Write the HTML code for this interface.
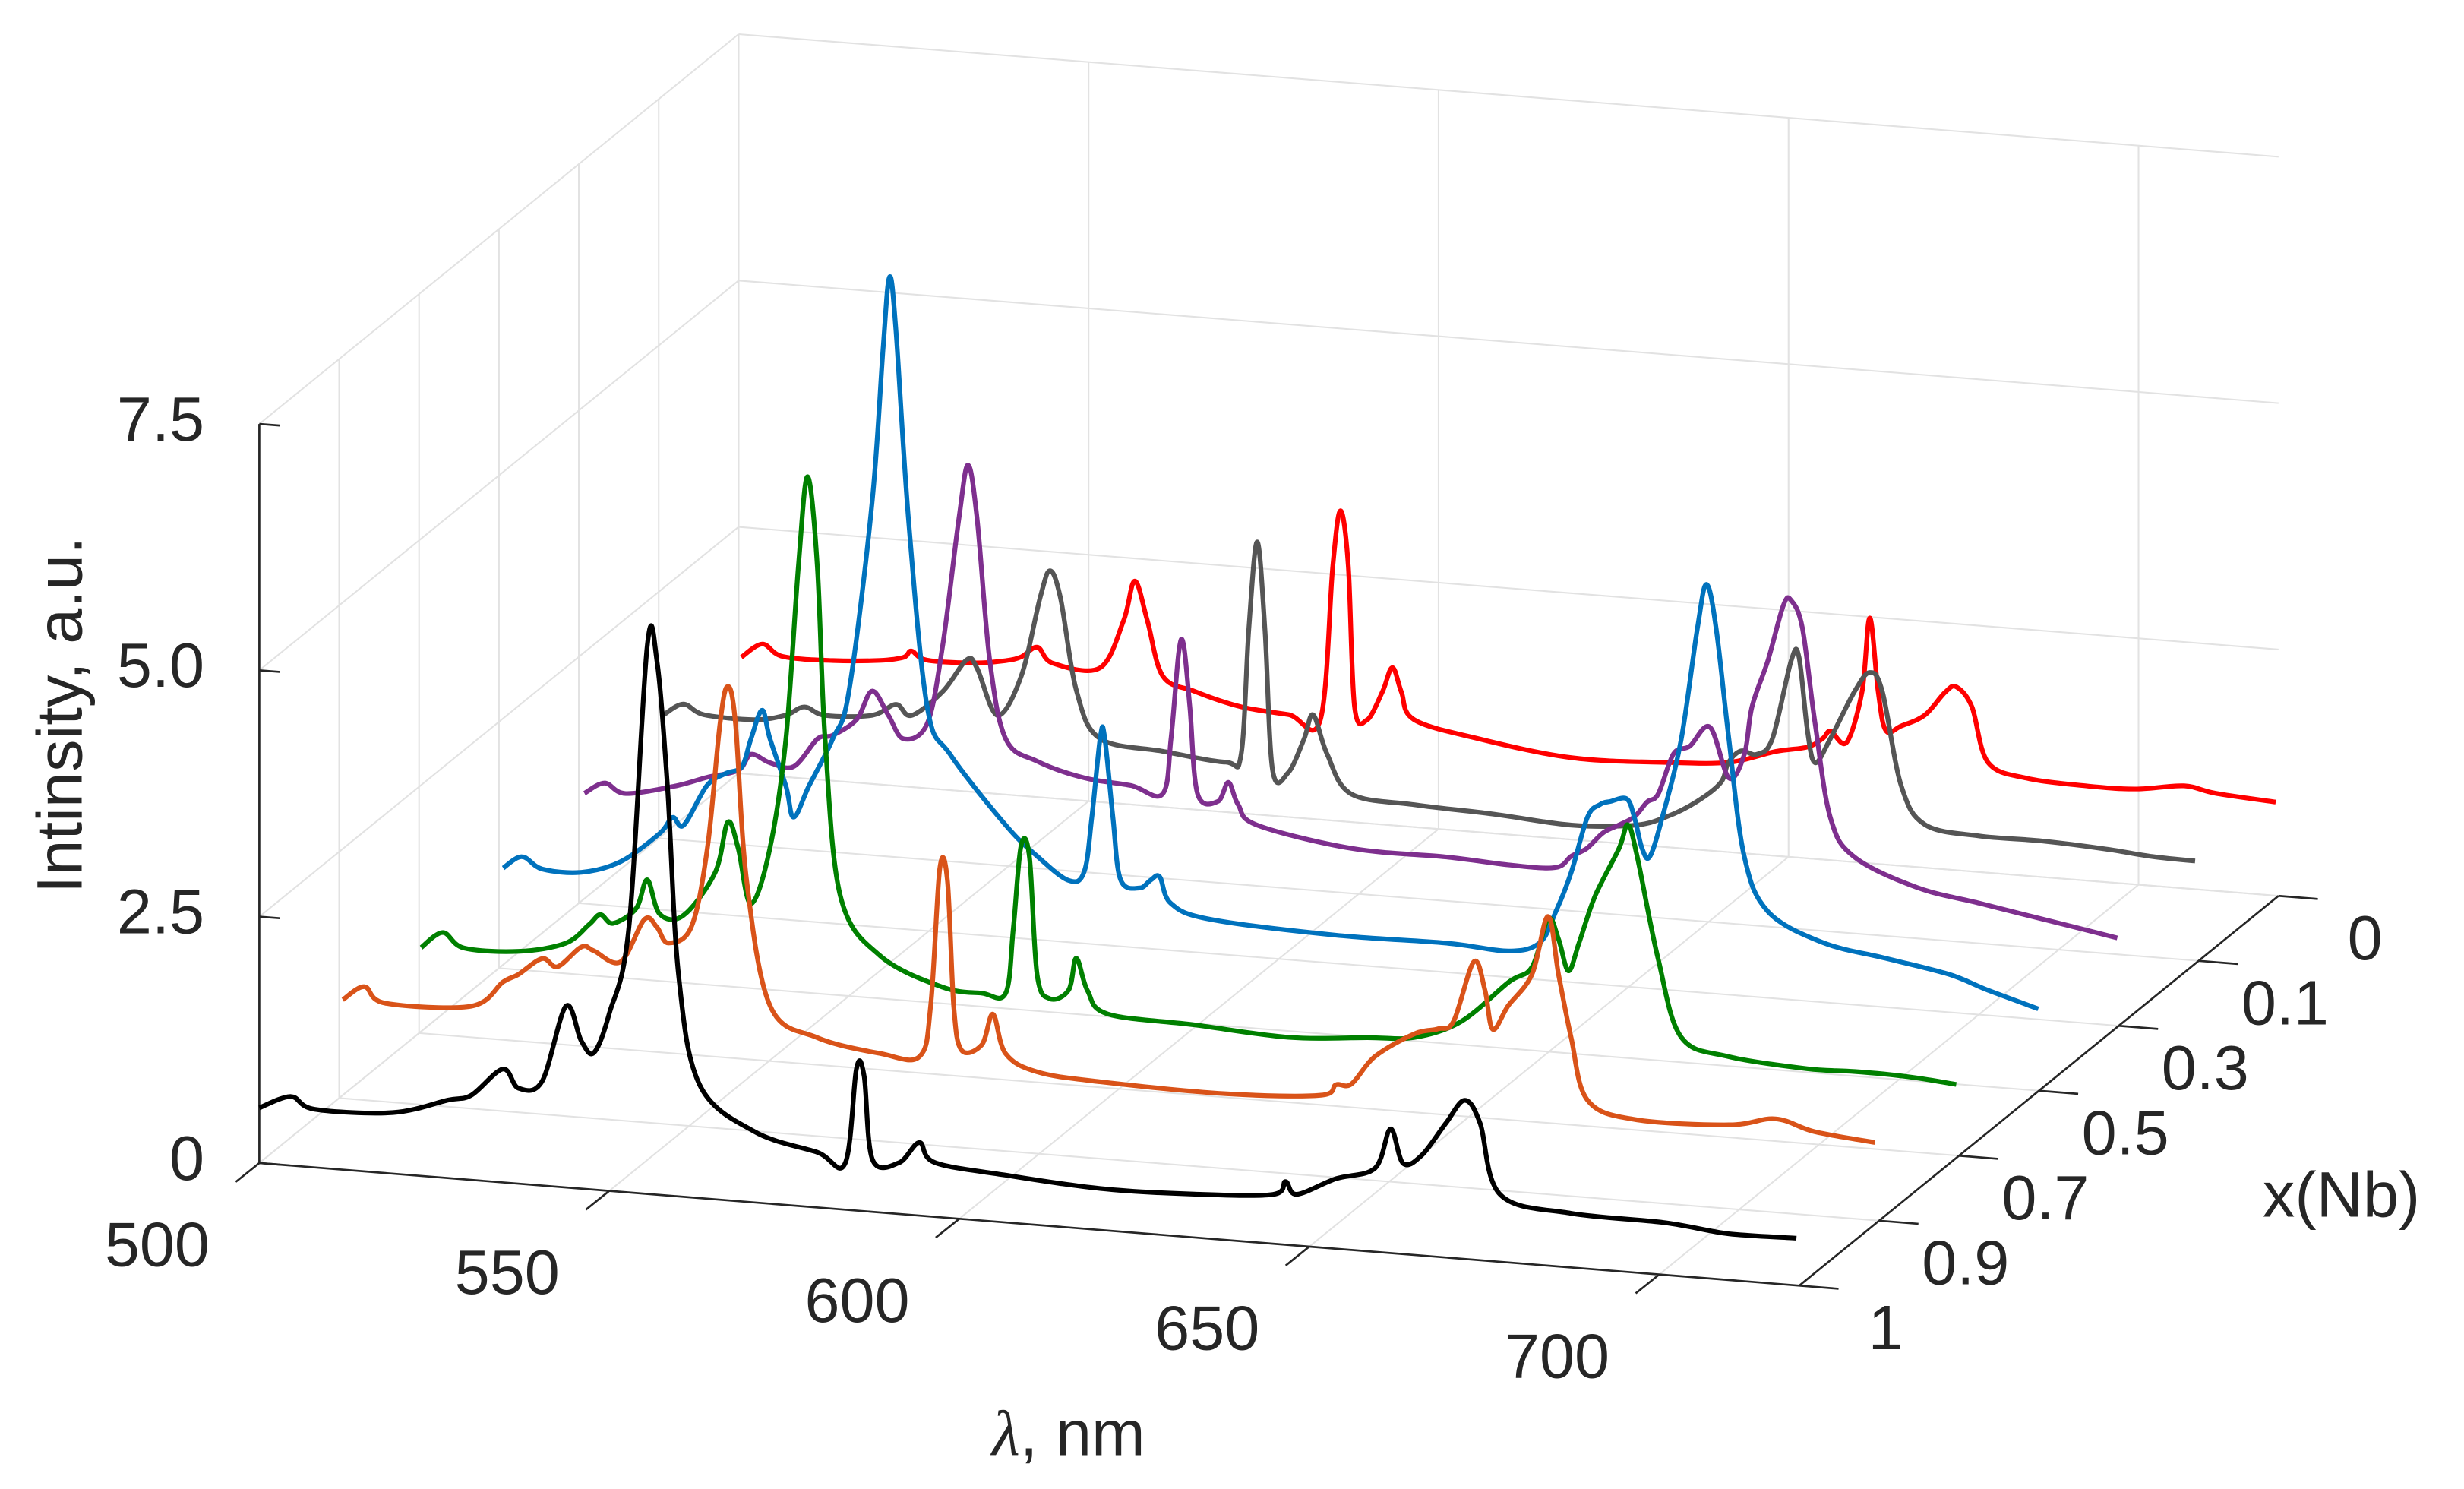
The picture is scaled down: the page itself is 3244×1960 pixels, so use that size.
<!DOCTYPE html>
<html><head><meta charset="utf-8">
<style>
html,body{margin:0;padding:0;background:#fff;}
svg{display:block;}
text{font-family:"Liberation Sans",sans-serif;fill:#262626;}
</style></head>
<body>
<svg id="chart" width="3244" height="1960" viewBox="0 0 1568 947.4" xmlns="http://www.w3.org/2000/svg">
<g id="grid"></g>
<g id="axes"></g>
<g id="series"></g>
<text x="0" y="0" font-size="41" text-anchor="middle" transform="translate(52,455) rotate(-90)">Intinsity, a.u.</text>
<text x="680" y="926" font-size="41" text-anchor="middle"><tspan font-family="Liberation Serif" font-style="italic">λ</tspan>, nm</text>
<text x="1490" y="774" font-size="41" text-anchor="middle">x(Nb)</text>
</svg>
<script>
const xCats=['0','0.1','0.3','0.5','0.7','0.9','1'];
const zTicks=[0,2.5,5,7.5];
const lTicks=[500,550,600,650,700];
const seriesColors=['#ff0000','#555555','#7e2f8e','#0072bd','#008000','#d95319','#000000'];
const seriesNames=['series-x0','series-x0.1','series-x0.3','series-x0.5','series-x0.7','series-x0.9','series-x1'];

const wl0=[500.4,503.4,506.3,513.5,520.2,523.6,524.7,526.9,533.7,538.2,540.4,542.7,544.9,551.6,555.0,556.6,558.4,560.6,565.1,571.8,578.6,583.1,584.9,586.0,587.1,588.0,589.8,592.0,593.4,594.7,596.5,605.5,619.0,632.5,641.4,648.2,652.7,654.9,656.0,658.3,660.5,661.6,662.8,663.9,666.1,669.5,672.4,674.0,676.2,678.5,684.1,693.1,699.8,706.5,711.0,719.6];
const z0=[1.18,1.33,1.22,1.22,1.26,1.31,1.38,1.30,1.31,1.36,1.41,1.52,1.37,1.36,1.86,2.27,1.88,1.33,1.20,1.08,1.04,1.01,2.59,3.15,2.60,1.17,1.05,1.35,1.60,1.36,1.09,0.95,0.83,0.86,0.91,1.06,1.13,1.23,1.31,1.21,1.74,2.49,1.75,1.36,1.42,1.55,1.80,1.86,1.67,1.12,0.99,0.96,0.97,1.04,0.99,0.95];

const wl1=[500.6,503.5,506.5,513.6,518.1,520.8,523.8,530.5,533.9,536.1,540.6,544.0,545.5,548.4,551.8,554.5,555.9,557.4,559.7,563.0,572.0,581.0,583.2,584.3,585.5,586.6,587.7,589.9,592.2,593.5,595.5,598.9,607.9,619.1,630.4,639.4,643.9,648.3,651.7,652.8,654.6,656.9,659.1,661.8,662.9,664.1,665.2,667.4,670.8,673.0,674.8,677.5,680.9,688.7,697.7,706.7,713.4,719.5];
const z1=[1.25,1.38,1.29,1.28,1.35,1.45,1.38,1.42,1.55,1.45,1.72,2.06,1.98,1.52,1.94,2.75,3.03,2.76,1.83,1.37,1.29,1.23,1.32,2.60,3.49,2.62,1.19,1.17,1.53,1.78,1.39,1.01,0.95,0.92,0.87,0.92,1.03,1.21,1.42,1.63,1.76,1.74,1.91,2.72,2.76,2.02,1.70,1.96,2.45,2.66,2.48,1.54,1.16,1.09,1.09,1.06,1.02,1.01];

const wl2=[500.8,503.7,506.7,513.9,518.3,522.8,524.6,527.3,530.7,534.1,536.3,539.7,541.9,544.2,546.4,549.8,552.0,554.3,555.6,556.9,558.7,561.0,565.5,572.2,578.9,583.4,584.6,585.7,586.4,587.3,588.4,591.3,592.8,594.2,596.9,610.4,623.8,632.8,639.5,641.8,644.0,646.3,648.5,650.8,652.6,654.2,656.4,658.7,661.6,664.3,666.5,667.6,669.9,672.1,673.2,674.8,676.6,678.8,682.2,691.2,700.2,709.2,719.8];
const z2=[1.12,1.24,1.15,1.27,1.38,1.48,1.65,1.58,1.56,1.86,1.91,2.09,2.39,2.16,1.93,2.11,2.92,4.21,4.76,4.22,2.80,2.01,1.81,1.68,1.64,1.58,2.15,3.03,3.11,2.48,1.61,1.55,1.75,1.53,1.34,1.18,1.17,1.14,1.15,1.28,1.37,1.54,1.63,1.73,1.89,1.98,2.40,2.49,2.70,2.20,2.45,2.94,3.43,4.00,4.05,3.78,2.83,1.88,1.50,1.24,1.13,1.02,0.89];

const wl3=[500.6,503.3,506.2,511.8,517.4,523.0,524.8,526.4,529.7,532.4,534.7,536.0,537.6,538.7,541.0,542.1,544.3,547.7,550.0,553.3,554.9,555.8,556.7,558.5,561.2,564.5,572.4,576.9,581.4,583.6,584.7,585.9,586.5,587.7,588.8,591.5,593.1,594.4,596.0,601.6,619.5,635.2,644.2,648.7,651.0,653.2,655.5,657.3,658.8,661.1,662.2,663.3,664.4,666.2,668.9,671.2,672.5,673.9,675.7,677.9,681.3,689.1,698.1,707.1,712.7,719.9];
const z3=[1.02,1.15,1.04,1.04,1.18,1.50,1.67,1.60,2.02,2.16,2.24,2.53,2.83,2.55,2.08,1.77,2.10,2.60,3.09,5.02,6.63,7.33,6.80,4.89,2.99,2.53,1.86,1.57,1.35,1.45,2.01,2.82,2.85,2.03,1.40,1.33,1.42,1.46,1.20,1.07,1.01,1.02,0.99,1.10,1.43,1.84,2.41,2.55,2.59,2.63,2.45,2.14,2.06,2.47,3.28,4.41,4.87,4.43,3.32,2.14,1.60,1.33,1.22,1.11,0.98,0.83];

const wl4=[500.3,503.4,506.4,514.2,520.9,524.3,525.9,527.7,531.0,532.6,534.4,537.8,542.3,544.1,545.6,547.4,550.1,552.4,554.2,555.5,556.9,558.0,560.2,565.8,574.8,580.4,583.8,584.9,586.0,587.2,588.3,590.1,592.8,593.9,595.5,598.4,610.8,624.2,635.5,642.2,648.9,655.7,659.0,661.3,662.8,664.2,665.7,668.0,671.4,672.7,674.0,677.0,680.3,687.1,698.3,705.1,712.9,719.6];
const z4=[0.87,1.04,0.90,0.91,1.03,1.24,1.35,1.27,1.44,1.74,1.40,1.41,1.87,2.39,2.13,1.58,2.15,3.28,5.05,5.96,5.06,3.32,1.73,1.16,0.89,0.86,0.88,1.55,2.39,2.28,1.09,0.86,0.96,1.29,0.97,0.75,0.71,0.66,0.72,0.76,0.96,1.40,1.57,2.07,1.87,1.56,1.85,2.34,2.84,3.09,2.78,1.76,0.98,0.82,0.76,0.77,0.76,0.72];

const wl5=[500.5,503.6,506.6,518.9,523.4,525.6,529.0,531.2,534.6,536.4,540.2,543.6,545.4,547.0,550.3,552.6,554.4,555.5,556.6,558.2,561.6,568.3,577.3,582.9,584.5,585.8,586.9,587.8,588.9,591.8,593.4,595.2,599.7,608.7,626.6,640.1,642.4,644.6,648.0,653.6,657.0,659.2,662.1,663.7,664.8,667.0,670.4,672.7,674.2,676.0,678.3,685.0,698.5,705.2,710.8,719.4];
const z5=[1.00,1.15,1.00,1.04,1.31,1.40,1.58,1.51,1.73,1.70,1.61,2.06,1.99,1.84,2.02,2.83,4.11,4.49,4.13,2.54,1.28,1.00,0.89,0.89,1.41,2.81,2.70,1.43,0.99,1.06,1.38,0.99,0.83,0.78,0.76,0.82,0.94,0.96,1.26,1.52,1.59,1.68,2.30,2.02,1.63,1.88,2.22,2.82,2.24,1.61,0.99,0.83,0.85,0.95,0.85,0.79];

const wl6=[500,504.5,507.9,519.1,526.9,530.3,534.8,537.0,540.4,543.8,546.0,547.8,550.0,552.8,555.4,556.8,558.3,559.9,562.9,570.7,579.7,583.7,585.3,586.4,587.6,591.4,594.3,596.5,606.6,620.1,633.6,644.8,646.6,648.2,653.8,659.4,661.6,663.4,666.1,669.5,672.2,674.4,677.3,687.4,700.9,709.9,719.6];
const z6=[0.56,0.70,0.59,0.62,0.79,0.86,1.15,0.97,1.06,1.84,1.50,1.39,1.80,2.69,5.55,5.42,4.16,2.25,1.15,0.72,0.56,0.47,1.44,1.37,0.53,0.52,0.74,0.55,0.48,0.42,0.44,0.50,0.64,0.52,0.71,0.85,1.26,0.92,1.02,1.36,1.61,1.39,0.68,0.55,0.53,0.47,0.48];

const wlSeries=[wl0,wl1,wl2,wl3,wl4,wl5,wl6];
const zSeries=[z0,z1,z2,z3,z4,z5,z6];

const NS='http://www.w3.org/2000/svg';
const L0=500,L1=720,ZMAX=7.5;
function P(l,t,z){const u=(l-L0)/(L1-L0),v=1-t;return [165+u*980+v*305,740+u*78-v*248-z*62.7];}
function tOf(i){return i/(xCats.length-1);}
function line(g,a,b,stroke,w){const e=document.createElementNS(NS,'line');
e.setAttribute('x1',a[0]);e.setAttribute('y1',a[1]);e.setAttribute('x2',b[0]);e.setAttribute('y2',b[1]);
e.setAttribute('stroke',stroke);e.setAttribute('stroke-width',w);g.appendChild(e);return e;}
function txt(g,x,y,s,anchor){const e=document.createElementNS(NS,'text');e.setAttribute('x',x);e.setAttribute('y',y);
e.setAttribute('font-size','40');e.setAttribute('text-anchor',anchor);e.setAttribute('dominant-baseline','middle');e.textContent=s;g.appendChild(e);return e;}
function smoothPath(p){
  let d='M'+p[0][0].toFixed(1)+','+p[0][1].toFixed(1);
  for(let i=0;i<p.length-1;i++){
    const p0=p[Math.max(0,i-1)],p1=p[i],p2=p[i+1],p3=p[Math.min(p.length-1,i+2)];
    const k=1/6;
    const c1=[p1[0]+(p2[0]-p0[0])*k,p1[1]+(p2[1]-p0[1])*k];
    const c2=[p2[0]-(p3[0]-p1[0])*k,p2[1]-(p3[1]-p1[1])*k];
    d+=' C'+c1[0].toFixed(1)+','+c1[1].toFixed(1)+' '+c2[0].toFixed(1)+','+c2[1].toFixed(1)+' '+p2[0].toFixed(1)+','+p2[1].toFixed(1);
  }
  return d;
}

const grid=document.getElementById('grid');
const GC='#e2e2e2';
zTicks.forEach(z=>{
  let e=line(grid,P(L0,0,z),P(L1,0,z),GC,1);
  
  
  e=line(grid,P(L0,0,z),P(L0,1,z),GC,1);
  
  
});
lTicks.forEach(l=>{
  let e=line(grid,P(l,0,0),P(l,0,ZMAX),GC,1);
  
  
  e=line(grid,P(l,0,0),P(l,1,0),GC,1);
  
  
});
xCats.forEach((c,i)=>{
  const t=tOf(i);
  let e=line(grid,P(L0,t,0),P(L0,t,ZMAX),GC,1);
  
  
  e=line(grid,P(L0,t,0),P(L1,t,0),GC,1);
  
  
});

const axes=document.getElementById('axes');
const AC='#262626';
let a=line(axes,P(L0,1,0),P(L0,1,ZMAX),AC,1.3);


a=line(axes,P(L0,1,0),P(L1,1,0),AC,1.3);


a=line(axes,P(L1,1,0),P(L1,0,0),AC,1.3);


zTicks.forEach(z=>{
  const p=P(L0,1,z);
  let e=line(axes,p,[p[0]+13,p[1]+1],AC,1.3);
  
  
  e=txt(axes,p[0]-35,p[1],z===0?'0':z.toFixed(1),'end');
  
  
});
lTicks.forEach(l=>{
  const p=P(l,1,0);
  let e=line(axes,p,[p[0]-15,p[1]+12],AC,1.3);
  
  
  e=txt(axes,p[0]-65,p[1]+55,String(l),'middle');
  
  
});
xCats.forEach((c,i)=>{
  const p=P(L1,tOf(i),0);
  let e=line(axes,p,[p[0]+25,p[1]+2],AC,1.3);
  
  
  e=txt(axes,p[0]+55,p[1]+30,c,'middle');
  
  
});

const sg=document.getElementById('series');
wlSeries.forEach((wl,i)=>{
  const t=tOf(i);const zs=zSeries[i];
  const pts=wl.map((l,k)=>P(l,t,zs[k]));
  const pl=document.createElementNS(NS,'path');
  pl.setAttribute('d',smoothPath(pts));
  pl.setAttribute('fill','none');
  pl.setAttribute('stroke',seriesColors[i]);
  pl.setAttribute('stroke-width','3');
  pl.setAttribute('stroke-linejoin','round');
  
  
  sg.appendChild(pl);
});
</script>
</body></html>
